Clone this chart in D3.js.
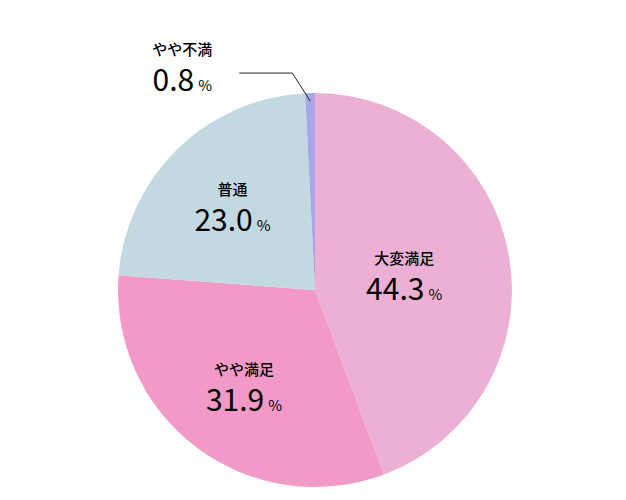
<!DOCTYPE html>
<html><head><meta charset="utf-8">
<script src="https://cdn.jsdelivr.net/npm/d3@7"></script>
<style>body{margin:0;background:#fff;font-family:"Noto Sans CJK JP",sans-serif}</style>
</head><body><div id="chart"></div>
<script>
var labels = ['大変満足', 'やや満足', '普通', 'やや不満'];
var values = [44.3, 31.9, 23.0, 0.8];
var colors = ['#ecb0d5', '#f29ac7', '#c3d9e1', '#a8a6e6'];
var labelR = [0.46, 0.6, 0.6, 0];

var width = 626, height = 500, cx = 315, cy = 290, r = 197;
var svg = d3.select('#chart').append('svg').attr('width', width).attr('height', height);
var g = svg.append('g').attr('transform', 'translate(' + cx + ',' + cy + ')');

var pie = d3.pie().sort(null).value(function (d) { return d; });
var arcs = pie(values);
var arc = d3.arc().innerRadius(0).outerRadius(r);

g.selectAll('path').data(arcs).enter().append('path')
  .attr('d', arc)
  .attr('fill', function (d, i) { return colors[i]; });

function addLabel(x, y, i) {
  var t = g.append('g').attr('transform', 'translate(' + x + ',' + y + ')');
  t.append('text').attr('text-anchor', 'middle').attr('y', -10)
    .attr('font-size', 15).attr('font-weight', 500).text(labels[i]);
  var v = t.append('text').attr('text-anchor', 'middle').attr('y', 26)
    .attr('font-size', 30).attr('font-weight', 400);
  v.append('tspan').text(values[i].toFixed(1));
  v.append('tspan').attr('font-size', 15).attr('dx', 4).text('%');
}

arcs.forEach(function (d, i) {
  if (labelR[i] === 0) return;
  var c = d3.arc().innerRadius(r * labelR[i]).outerRadius(r * labelR[i]).centroid(d);
  addLabel(c[0], c[1], i);
});

// small slice with leader line
var small = arcs[3];
var mid = (small.startAngle + small.endAngle) / 2;
var px = Math.sin(mid) * (r - 8), py = -Math.cos(mid) * (r - 8);
var ex = px - 18, ey = py - 28;
g.append('polyline')
  .attr('points', [[px, py], [ex, ey], [ex - 53, ey]].map(function (p) { return p.join(','); }).join(' '))
  .attr('fill', 'none').attr('stroke', '#222').attr('stroke-width', 1);
addLabel(ex - 110, ey - 8, 3);
</script></body></html>
